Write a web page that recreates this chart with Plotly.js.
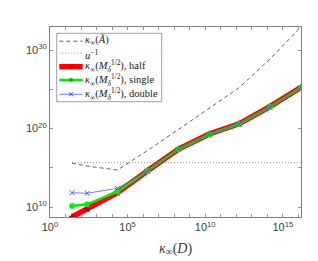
<!DOCTYPE html>
<html>
<head>
<meta charset="utf-8">
<script src="https://cdn.plot.ly/plotly-3.0.1.min.js"></script>
<style>html,body{margin:0;padding:0;background:#fff;}#chart{width:318px;height:261px;}</style>
</head>
<body>
<div id="chart"></div>
<script>
// log10 of kappa_inf(D)
const logKappaD = [1.42, 2.39, 4.34, 6.29, 8.28, 10.26, 12.18, 14.17, 16.17];
// log10 values of each series
const logKappaA = [15.57, 15.22, 14.71, 17.21, 19.89, 22.56, 25.2, 28.85, 32.93];
const logUinv = 15.654;
const logHalf = [8.73, 9.7, 11.82, 14.62, 17.38, 19.3, 20.6, 22.78, 25.26];
const logSingle = [10.13, 10.34, 11.95, 14.59, 17.35, 19.26, 20.57, 22.74, 25.22];
const logDouble = [11.82, 11.75, 12.38, 14.59, 17.35, 19.26, 20.57, 22.74, 25.22];

const xTickDecades = [0, 5, 10, 15];
const xTickLabels = ["10<sup>0</sup>", "10<sup>5</sup>", "10<sup>10</sup>", "10<sup>15</sup>"];
const xMinorDecades = [1,2,3,4,6,7,8,9,11,12,13,14,16];
const yTickDecades = [10, 20, 30];
const yTickLabels = ["10<sup>10</sup>", "10<sup>20</sup>", "10<sup>30</sup>"];
const yMinorDecades = [15, 25];

const names = [
  "<i>κ</i><sub>∞</sub>(<i>Ã</i>)",
  "<i>u</i><sup>−1</sup>",
  "<i>κ</i><sub>∞</sub>(<i>M</i><sub><i>δ</i></sub><sup>1/2</sup>), half",
  "<i>κ</i><sub>∞</sub>(<i>M</i><sub><i>δ</i></sub><sup>1/2</sup>), single",
  "<i>κ</i><sub>∞</sub>(<i>M</i><sub><i>δ</i></sub><sup>1/2</sup>), double"
];

const pw = a => a.map(v => Math.pow(10, v));
const xs = pw(logKappaD);

const styles = [
  {mode: 'lines', line: {color: '#3a3a3a', width: 0.8, dash: '4px,3px'}},
  {mode: 'lines', line: {color: '#777777', width: 0.8, dash: '1px,2px'}},
  {mode: 'lines+markers', line: {color: '#ff0000', width: 5.5}, marker: {symbol: 'star', size: 6, color: '#b00000'}},
  {mode: 'lines+markers', line: {color: '#00ee00', width: 2.5}, marker: {symbol: 'asterisk-open', size: 5, line: {color: '#00aa00', width: 1.5}}},
  {mode: 'lines+markers', line: {color: '#5555ff', width: 0.8}, marker: {symbol: 'x-thin-open', size: 5, line: {color: '#3333ff', width: 1}}}
];

const traces = [
  Object.assign({x: xs, y: pw(logKappaA), name: names[0]}, styles[0]),
  Object.assign({x: [xs[0], Math.pow(10, 16.17)], y: [Math.pow(10, logUinv), Math.pow(10, logUinv)], name: names[1]}, styles[1]),
  Object.assign({x: xs, y: pw(logHalf), name: names[2]}, styles[2]),
  Object.assign({x: xs, y: pw(logSingle), name: names[3]}, styles[3]),
  Object.assign({x: xs, y: pw(logDouble), name: names[4]}, styles[4])
];

// manual legend (paper coordinates, derived from pixel layout)
const L = 50, T = 27, W = 251, H = 190;
const px = v => (v - L) / W;
const py = v => 1 - (v - T) / H;
const rowY = [41.2, 53.2, 66.7, 80, 94.3];
const textY = [40.8, 54.2, 66.2, 79.6, 93.9];
const shapes = [
  {type: 'rect', xref: 'paper', yref: 'paper', x0: px(56.7), x1: px(161.7), y0: py(33.3), y1: py(101.7),
   line: {color: '#888888', width: 0.8}, fillcolor: '#ffffff', layer: 'above'}
];
const annotations = [];
rowY.forEach((ry, i) => {
  const st = styles[i];
  shapes.push({type: 'line', xref: 'paper', yref: 'paper', x0: px(59.3), x1: px(82.7), y0: py(ry), y1: py(ry),
    line: {color: st.line.color, width: st.line.width, dash: st.line.dash || 'solid'}, layer: 'above'});
  annotations.push({xref: 'paper', yref: 'paper', x: px(84), y: py(textY[i]), xanchor: 'left', yanchor: 'middle',
    text: names[i], showarrow: false, borderpad: 0,
    font: {family: 'Liberation Serif, serif', size: 10.5, color: '#202020'}});
});
// legend markers
shapes.push({type: 'circle', xref: 'paper', yref: 'paper', x0: px(69), x1: px(73), y0: py(rowY[2]-2), y1: py(rowY[2]+2),
  fillcolor: '#b00000', line: {width: 0}, layer: 'above'});
shapes.push({type: 'rect', xref: 'paper', yref: 'paper', x0: px(69.3), x1: px(72.7), y0: py(rowY[3]-1.7), y1: py(rowY[3]+1.7),
  fillcolor: '#00aa00', line: {width: 0}, layer: 'above'});
shapes.push({type: 'line', xref: 'paper', yref: 'paper', x0: px(69), x1: px(73), y0: py(rowY[4]-2), y1: py(rowY[4]+2),
  line: {color: '#3333ff', width: 1}, layer: 'above'});
shapes.push({type: 'line', xref: 'paper', yref: 'paper', x0: px(69), x1: px(73), y0: py(rowY[4]+2), y1: py(rowY[4]-2),
  line: {color: '#3333ff', width: 1}, layer: 'above'});

const axisCommon = {
  type: 'log', tickmode: 'array',
  ticks: 'inside', ticklen: 3, tickcolor: '#808080', tickwidth: 0.8,
  showline: true, linecolor: '#808080', linewidth: 1, mirror: 'ticks',
  showgrid: false, zeroline: false,
  tickfont: {size: 11, color: '#404040'}
};

const layout = {
  width: 318, height: 261,
  margin: {l: 50, r: 17, t: 27, b: 44},
  paper_bgcolor: '#ffffff', plot_bgcolor: '#ffffff',
  showlegend: false,
  font: {family: 'Liberation Sans, Arial, sans-serif', size: 11, color: '#404040'},
  xaxis: Object.assign({}, axisCommon, {
    range: [0, 16.17],
    tickvals: pw(xTickDecades), ticktext: xTickLabels,
    minor: {tickmode: 'array', tickvals: pw(xMinorDecades), ticks: 'inside', ticklen: 3, tickcolor: '#808080', tickwidth: 0.8, showgrid: false},
    title: {text: '<i>κ</i><sub>∞</sub>(<i>D</i>)', font: {family: 'Liberation Serif, serif', size: 14, color: '#404040'}, standoff: 10}
  }),
  yaxis: Object.assign({}, axisCommon, {
    range: [8.73, 32.93],
    tickvals: pw(yTickDecades), ticktext: yTickLabels,
    minor: {tickmode: 'array', tickvals: pw(yMinorDecades), ticks: 'inside', ticklen: 3, tickcolor: '#808080', tickwidth: 0.8, showgrid: false}
  }),
  shapes: shapes,
  annotations: annotations
};

Plotly.newPlot('chart', traces, layout, {displayModeBar: false, staticPlot: true});
</script>
</body>
</html>
